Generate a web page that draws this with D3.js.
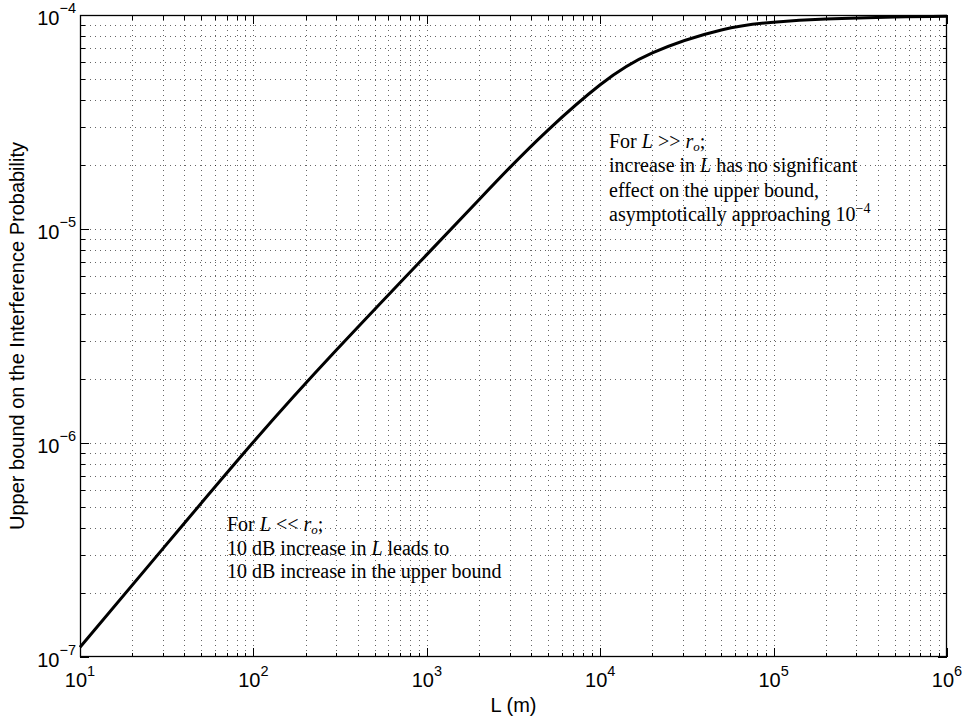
<!DOCTYPE html>
<html>
<head>
<meta charset="utf-8">
<script src="https://cdn.jsdelivr.net/npm/d3@7"></script>
<style>
body { margin: 0; background: #fff; }
</style>
</head>
<body>
<div id="chart"></div>
<script>
// values
var lengths = [10, 30, 100, 300, 1000, 2000, 3000, 5000, 10000, 20000, 50000, 100000, 200000, 500000, 1000000];
var bound = [1.11e-7, 3.20e-7, 1.01e-6, 2.71e-6, 7.59e-6, 1.37e-5, 1.93e-5, 2.90e-5, 4.72e-5, 6.65e-5, 8.51e-5, 9.25e-5, 9.57e-5, 9.79e-5, 9.86e-5];

var xDomain = [10, 1e6];
var yDomain = [1e-7, 1e-4];
var xLabel = "L (m)";
var yLabel = "Upper bound on the Interference Probability";

// annotation lines: [text, style] pieces
var noteHigh = [
    [["For ", ""], ["L", "i"], [" >> ", ""], ["r", "i"], ["o", "sub"], [";", ""]],
    [["increase in ", ""], ["L", "i"], [" has no significant", ""]],
    [["effect on the upper bound,", ""]],
    [["asymptotically approaching 10", ""], ["\u22124", "sup"]]
];
var noteLow = [
    [["For ", ""], ["L", "i"], [" << ", ""], ["r", "i"], ["o", "sub"], [";", ""]],
    [["10 dB increase in ", ""], ["L", "i"], [" leads to", ""]],
    [["10 dB increase in the upper bound", ""]]
];

function init() {
    var W = 967, H = 719;
    var left = 80, top = 15, right = 947, bottom = 657;

    var svg = d3.select("#chart").append("svg")
        .attr("width", W)
        .attr("height", H)
        .style("font-family", "'Liberation Sans', Arial, sans-serif");

    var x = d3.scaleLog().domain(xDomain).range([left, right]);
    var y = d3.scaleLog().domain(yDomain).range([bottom, top]);

    var xt = x.ticks();
    var yt = y.ticks();
    function isMajor(v) {
        var l = Math.log10(v);
        return Math.abs(l - Math.round(l)) < 1e-9;
    }

    // grid
    var grid = svg.append("g")
        .attr("stroke", "#000")
        .attr("stroke-opacity", 0.6)
        .attr("stroke-dasharray", "1,4")
        .attr("shape-rendering", "crispEdges");
    grid.selectAll(".gx").data(xt.filter(function(d) { return d > xDomain[0] && d < xDomain[1]; }))
        .enter().append("line")
        .attr("x1", function(d) { return Math.round(x(d)) + 0.5; })
        .attr("x2", function(d) { return Math.round(x(d)) + 0.5; })
        .attr("y1", top).attr("y2", bottom);
    grid.selectAll(".gy").data(yt.filter(function(d) { return d > yDomain[0] * 1.0001 && d < yDomain[1] * 0.9999; }))
        .enter().append("line")
        .attr("y1", function(d) { return Math.round(y(d)) + 0.5; })
        .attr("y2", function(d) { return Math.round(y(d)) + 0.5; })
        .attr("x1", left).attr("x2", right);

    // ticks, inward on all four sides
    var ticks = svg.append("g").attr("stroke", "#000").attr("stroke-width", 1)
        .attr("shape-rendering", "crispEdges");
    xt.forEach(function(d) {
        var px = Math.round(x(d)) + 0.5;
        var len = isMajor(d) ? 9 : 4.5;
        ticks.append("line").attr("x1", px).attr("x2", px).attr("y1", bottom).attr("y2", bottom - len);
        ticks.append("line").attr("x1", px).attr("x2", px).attr("y1", top).attr("y2", top + len);
    });
    yt.forEach(function(d) {
        var py = Math.round(y(d)) + 0.5;
        var len = isMajor(d) ? 9 : 4.5;
        ticks.append("line").attr("y1", py).attr("y2", py).attr("x1", left).attr("x2", left + len);
        ticks.append("line").attr("y1", py).attr("y2", py).attr("x1", right).attr("x2", right - len);
    });

    // box
    svg.append("rect")
        .attr("x", left + 0.5).attr("y", top + 0.5)
        .attr("width", right - left - 1).attr("height", bottom - top - 1)
        .attr("fill", "none").attr("stroke", "#000").attr("stroke-width", 1.3);

    function powLabel(t, p, raise) {
        t.append("tspan").text("10");
        t.append("tspan").attr("dy", -raise).attr("font-size", 14.5)
            .text(p < 0 ? "\u2212" + (-p) : String(p));
    }

    // tick labels
    xt.filter(isMajor).forEach(function(d) {
        var t = svg.append("text")
            .attr("x", x(d)).attr("y", bottom + 30)
            .attr("text-anchor", "middle")
            .attr("font-size", 20);
        powLabel(t, Math.round(Math.log10(d)), 11);
    });
    yt.filter(isMajor).forEach(function(d) {
        var t = svg.append("text")
            .attr("x", left - 4).attr("y", y(d) + 10)
            .attr("text-anchor", "end")
            .attr("font-size", 20);
        powLabel(t, Math.round(Math.log10(d)), 12);
    });

    // axis labels
    svg.append("text")
        .attr("x", (left + right) / 2).attr("y", 712)
        .attr("text-anchor", "middle")
        .attr("font-size", 20)
        .text(xLabel);
    svg.append("text")
        .attr("transform", "translate(24," + ((top + bottom) / 2) + ") rotate(-90)")
        .attr("text-anchor", "middle")
        .attr("font-size", 20)
        .text(yLabel);

    // curve
    var line = d3.line()
        .x(function(d) { return x(d[0]); })
        .y(function(d) { return y(d[1]); })
        .curve(d3.curveNatural);
    svg.append("path")
        .datum(d3.zip(lengths, bound))
        .attr("d", line)
        .attr("fill", "none")
        .attr("stroke", "#000")
        .attr("stroke-width", 3);

    // annotations
    function note(lines, x0, y0, step) {
        lines.forEach(function(parts, i) {
            var t = svg.append("text")
                .attr("x", x0).attr("y", y0 + i * step)
                .attr("font-family", "'Liberation Serif', 'Times New Roman', serif")
                .attr("font-size", 20);
            var shift = 0;
            parts.forEach(function(p) {
                var s = t.append("tspan").text(p[0]);
                var dy = 0;
                if (p[1] === "i") s.attr("font-style", "italic");
                if (p[1] === "sub") { s.attr("font-style", "italic").attr("font-size", 13); dy = 3; }
                if (p[1] === "sup") { s.attr("font-size", 14); dy = -8; }
                if (dy !== shift) s.attr("dy", dy - shift);
                shift = dy;
            });
        });
    }
    note(noteHigh, 609, 147.5, 24.5);
    note(noteLow, 227, 531, 23.5);
}

window.onload = init;
</script>
</body>
</html>
